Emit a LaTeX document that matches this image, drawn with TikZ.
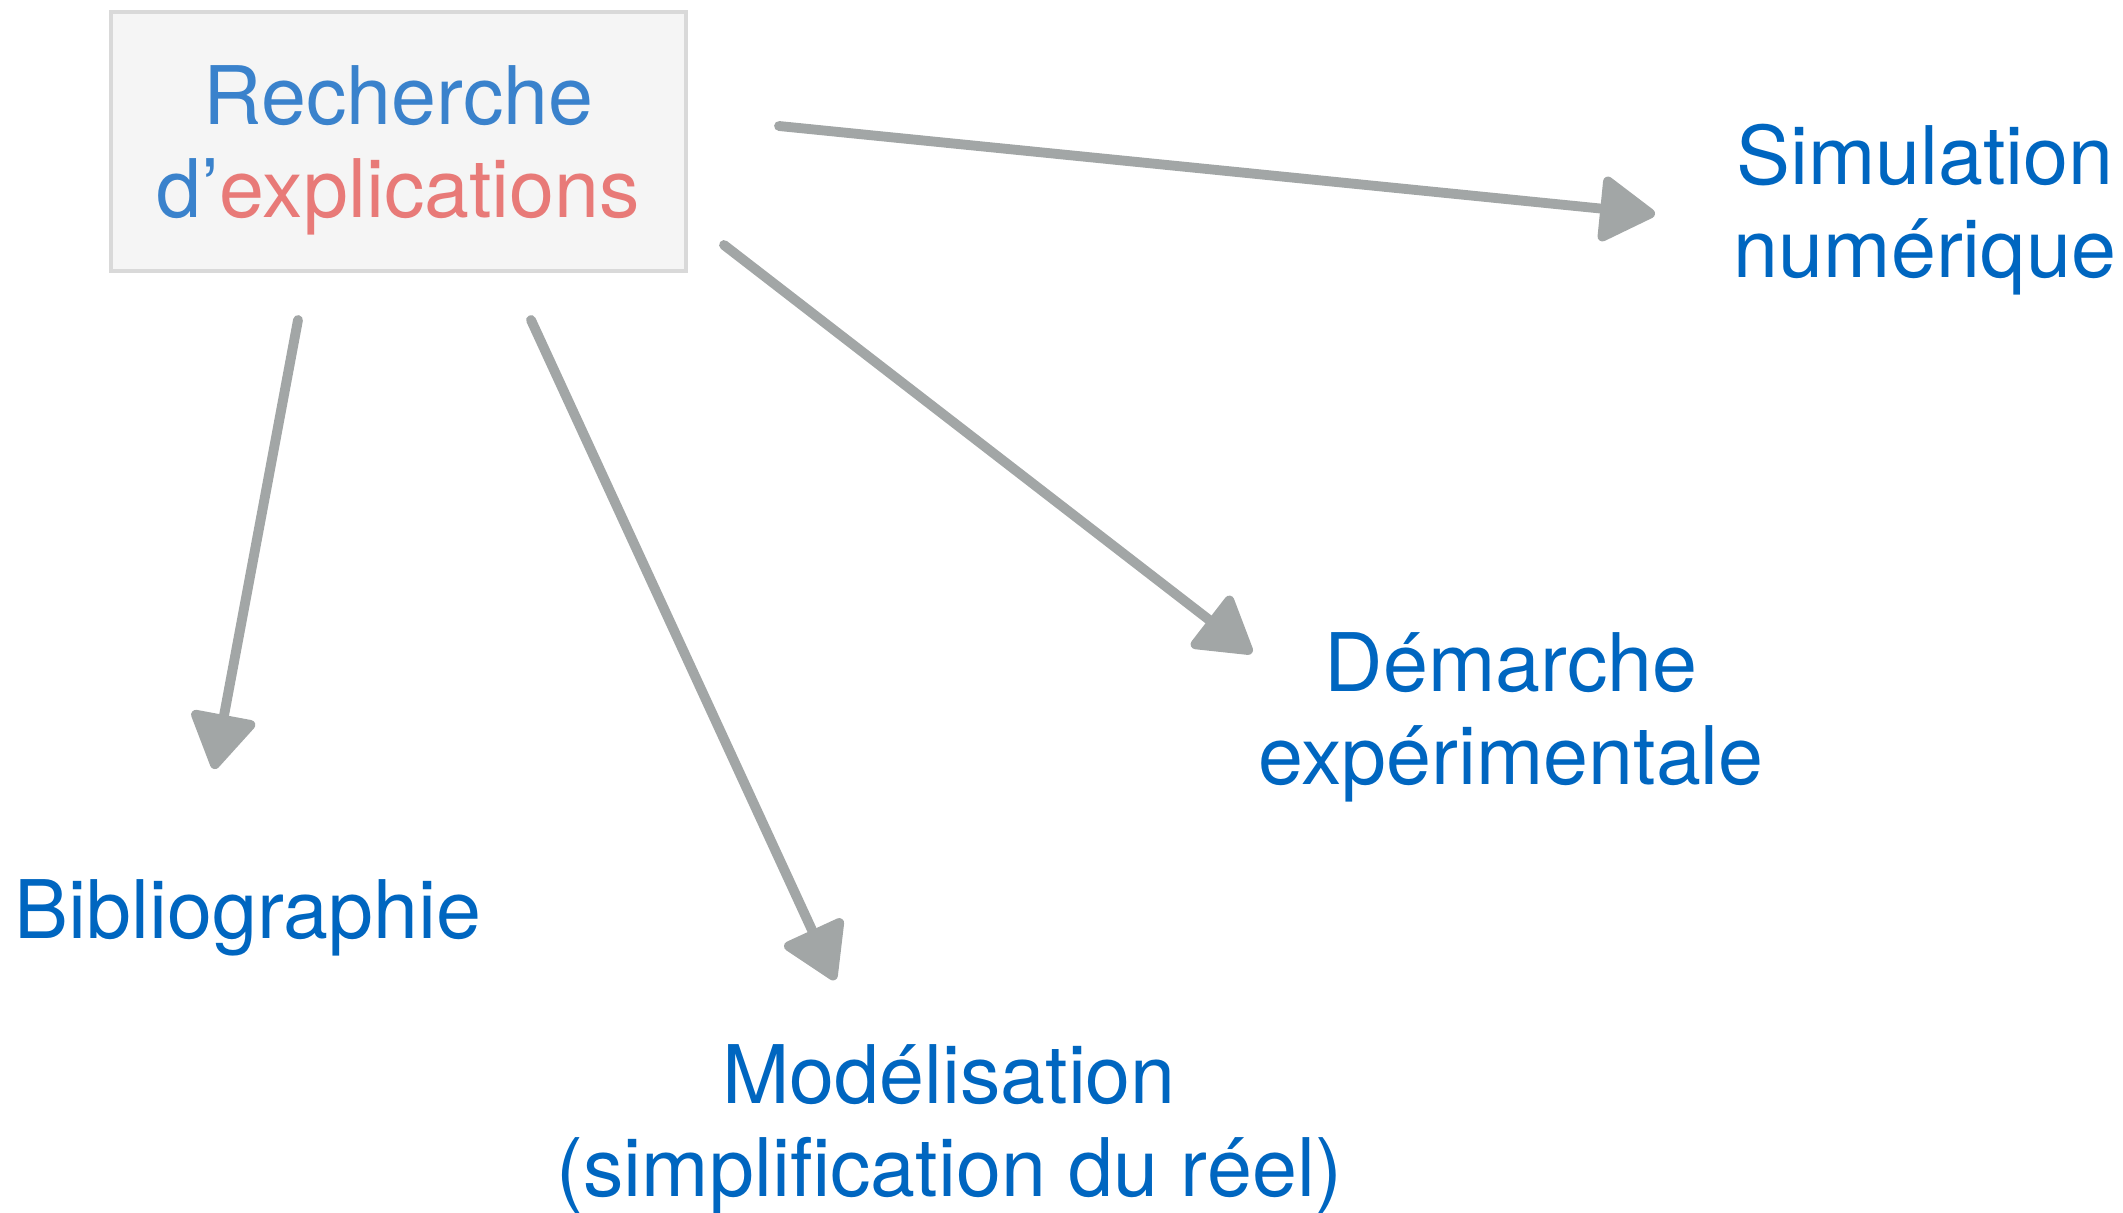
\documentclass[tikz,border=0pt]{standalone}
\usepackage{fontspec}
\setmainfont{TeX Gyre Heros}
\usepackage{tikz}
\usetikzlibrary{arrows.meta,positioning}

\definecolor{labelblue}{HTML}{0066C0}
\definecolor{boxblue}{HTML}{3A82CC}
\definecolor{boxred}{HTML}{E87A78}
\definecolor{chalk}{HTML}{A2A6A6}

\tikzset{
  labeltext/.style={text=labelblue,align=center,font=\fontsize{23}{26.5}\selectfont,inner sep=0pt},
  startbox/.style={draw=black!15,line width=1.1pt,fill=black!4,minimum width=5.75cm,minimum height=2.59cm},
  boxtext/.style={align=center,font=\fontsize{23}{26.5}\selectfont,inner sep=0pt},
  chalkarrow/.style={draw=chalk,line width=2.8pt,line cap=round,-{Triangle[length=17pt,width=20pt,round]}}
}

\begin{document}
\begin{tikzpicture}
  \useasboundingbox (0,0) rectangle (21.23,-12.12);
  \node[startbox] (recherche) at (3.985,-1.415) {};
  \node[boxtext] (recherchetxt) at ([yshift=-0.09cm]recherche.center)
    {\textcolor{boxblue}{Recherche}\\\textcolor{boxblue}{d’}\textcolor{boxred}{explications}};
  \node[labeltext] (simulation) at (19.25,-2.10) {Simulation\\numérique};
  \node[labeltext] (demarche) at (15.11,-7.17) {Démarche\\expérimentale};
  \node[labeltext] (biblio) at (2.48,-9.18) {Bibliographie};
  \node[labeltext] (modelisation) at (9.49,-11.29) {Modélisation\\(simplification du réel)};
  % arrow ends
  \coordinate (s1) at (7.79,-1.26);
  \coordinate (e1) at (16.55,-2.14);
  \coordinate (s2) at (7.24,-2.45);
  \coordinate (e2) at (12.52,-6.53);
  \coordinate (s3) at (2.98,-3.20);
  \coordinate (e3) at (2.14,-7.69);
  \coordinate (s4) at (5.31,-3.20);
  \coordinate (e4) at (8.35,-9.80);
  \draw[chalkarrow] (s1) -- (e1);
  \draw[chalkarrow] (s2) -- (e2);
  \draw[chalkarrow] (s3) -- (e3);
  \draw[chalkarrow] (s4) -- (e4);
\end{tikzpicture}
\end{document}
